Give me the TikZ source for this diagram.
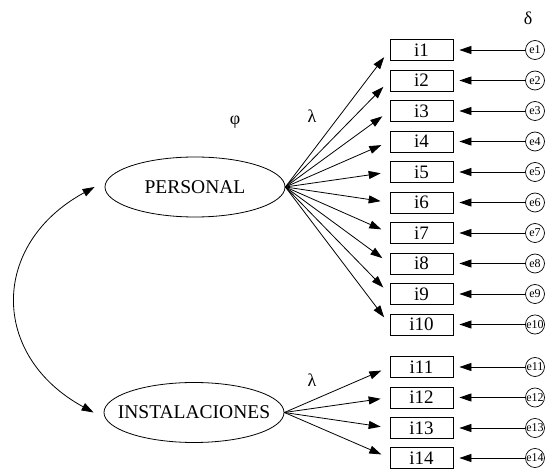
\documentclass[tikz,border=0pt]{standalone}
\usetikzlibrary{arrows.meta,positioning,shapes.geometric}
\usepackage{fontspec}
\setmainfont{Liberation Serif}

\begin{document}
\begin{tikzpicture}[
  x=1pt, y=1pt, >=Stealth,
  latent/.style={ellipse, draw=black, line width=0.8pt, minimum width=180pt, minimum height=60pt, inner xsep=-30pt, inner ysep=0pt, font=\fontsize{19.5}{21}\selectfont},
  item/.style={rectangle, draw=black, line width=0.8pt, minimum width=63pt, minimum height=21pt, inner sep=0pt, font=\fontsize{19}{21}\selectfont},
  err/.style={circle, draw=black, line width=0.7pt, minimum size=19pt, inner sep=0pt, font=\fontsize{12}{13}\selectfont},
  load/.style={draw=black, line width=0.8pt, -{Triangle[length=12pt, width=8pt]}, shorten >=9pt},
  errarr/.style={draw=black, line width=0.8pt, -{Triangle[length=12pt, width=8pt]}, shorten >=6pt},
  greek/.style={font=\fontsize{18}{20}\selectfont}
]

  % Canvas
  \useasboundingbox (0,0) rectangle (547,469);

  % Greek labels
  \node[greek] (phi) at (235, 347) {φ};
  \node[greek] (lam1) at (312, 353) {λ};
  \node[greek] (lam2) at (312, 89) {λ};
  \node[greek] (delta) at (528, 451) {δ};

  % Latent factors
  \node[latent] (pers) at (195, 282) {PERSONAL};
  \node[latent] (inst) at (194, 56.5) {INSTALACIONES};

  % Indicators
  \node[item] (i1) at (421.5, 419) {i1};
  \node[item] (i2) at (421.5, 388.5) {i2};
  \node[item] (i3) at (421.5, 358) {i3};
  \node[item] (i4) at (421.5, 327.5) {i4};
  \node[item] (i5) at (421.5, 297) {i5};
  \node[item] (i6) at (421.5, 266.5) {i6};
  \node[item] (i7) at (421.5, 236) {i7};
  \node[item] (i8) at (421.5, 205.5) {i8};
  \node[item] (i9) at (421.5, 175) {i9};
  \node[item] (i10) at (421.5, 144.5) {i10};
  \node[item] (i11) at (421.5, 102) {i11};
  \node[item] (i12) at (421.5, 71.5) {i12};
  \node[item] (i13) at (421.5, 41) {i13};
  \node[item] (i14) at (421.5, 11) {i14};

  % Error terms
  \node[err] (e1) at (535, 419) {e1};
  \node[err] (e2) at (535, 388.5) {e2};
  \node[err] (e3) at (535, 358) {e3};
  \node[err] (e4) at (535, 327.5) {e4};
  \node[err] (e5) at (535, 297) {e5};
  \node[err] (e6) at (535, 266.5) {e6};
  \node[err] (e7) at (535, 236) {e7};
  \node[err] (e8) at (535, 205.5) {e8};
  \node[err] (e9) at (535, 175) {e9};
  \node[err] (e10) at (535, 144.5) {e10};
  \node[err] (e11) at (535, 102) {e11};
  \node[err] (e12) at (535, 71.5) {e12};
  \node[err] (e13) at (535, 41) {e13};
  \node[err] (e14) at (535, 11) {e14};

  % Loadings: PERSONAL
  \draw[load] (pers.east) -- (i1.west);
  \draw[load] (pers.east) -- (i2.west);
  \draw[load] (pers.east) -- (i3.west);
  \draw[load] (pers.east) -- (i4.west);
  \draw[load] (pers.east) -- (i5.west);
  \draw[load] (pers.east) -- (i6.west);
  \draw[load] (pers.east) -- (i7.west);
  \draw[load] (pers.east) -- (i8.west);
  \draw[load] (pers.east) -- (i9.west);
  \draw[load] (pers.east) -- (i10.west);

  % Loadings: INSTALACIONES
  \draw[load] (inst.east) -- (i11.west);
  \draw[load] (inst.east) -- (i12.west);
  \draw[load] (inst.east) -- (i13.west);
  \draw[load] (inst.east) -- (i14.west);

  % Errors -> indicators
  \draw[errarr] (e1) -- (i1);
  \draw[errarr] (e2) -- (i2);
  \draw[errarr] (e3) -- (i3);
  \draw[errarr] (e4) -- (i4);
  \draw[errarr] (e5) -- (i5);
  \draw[errarr] (e6) -- (i6);
  \draw[errarr] (e7) -- (i7);
  \draw[errarr] (e8) -- (i8);
  \draw[errarr] (e9) -- (i9);
  \draw[errarr] (e10) -- (i10);
  \draw[errarr] (e11) -- (i11);
  \draw[errarr] (e12) -- (i12);
  \draw[errarr] (e13) -- (i13);
  \draw[errarr] (e14) -- (i14);

  % Covariance between factors
  \draw[line width=0.8pt, {Triangle[length=12pt, width=8pt]}-{Triangle[length=12pt, width=8pt]}]
    ([xshift=-10pt]pers.west) .. controls (-10, 225) and (-10, 113) .. ([xshift=-10pt]inst.west);

\end{tikzpicture}
\end{document}
